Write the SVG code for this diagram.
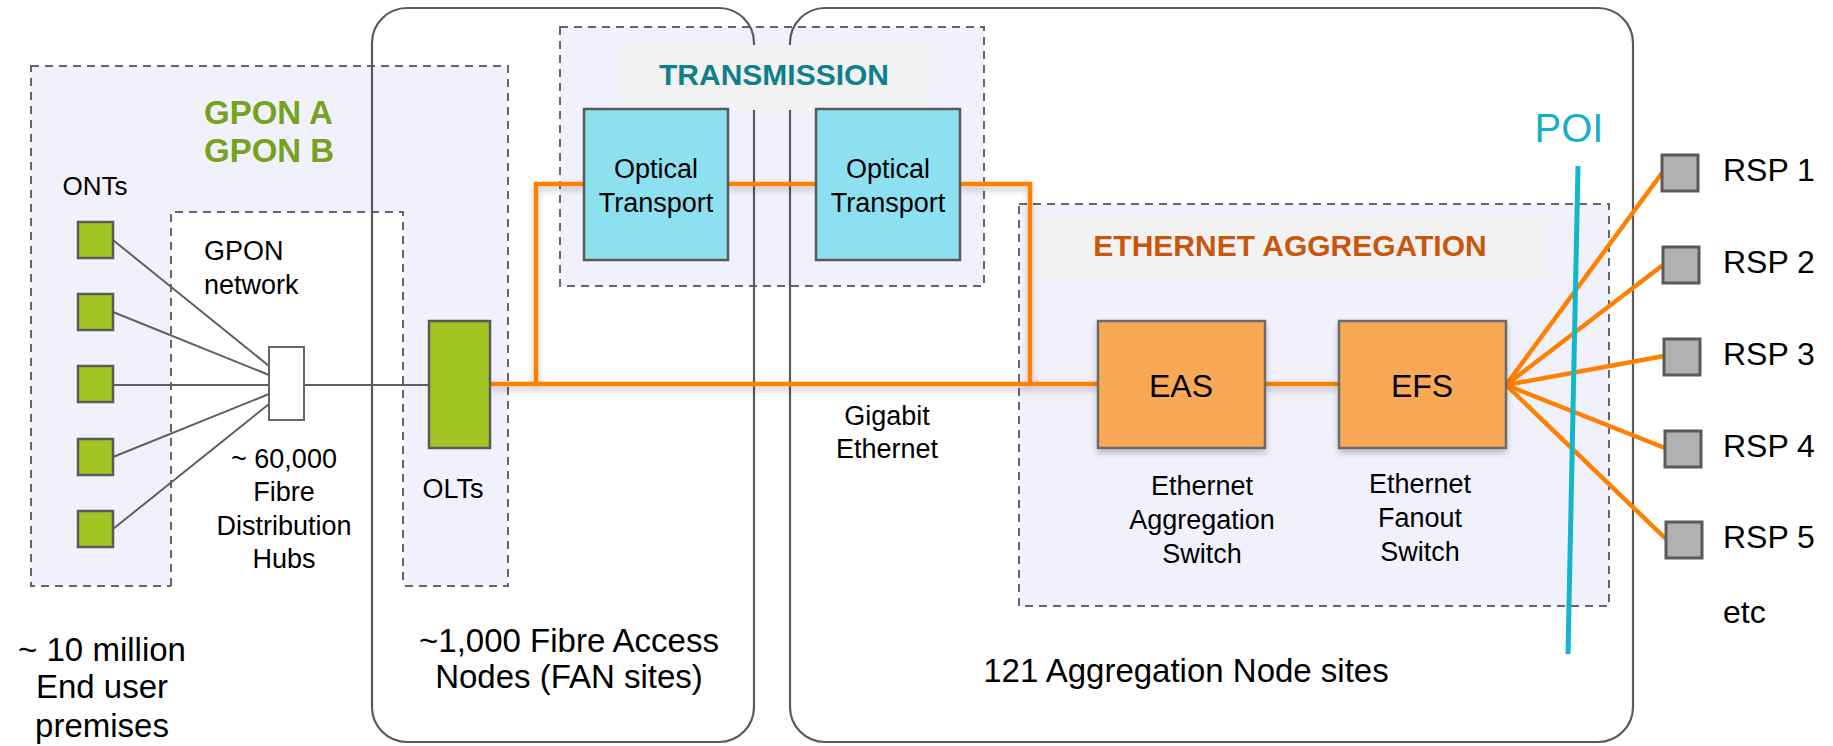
<svg xmlns="http://www.w3.org/2000/svg" width="1833" height="746" viewBox="0 0 1833 746">
<defs>
<style>
.region{fill:#F1F1FD;stroke:#666;stroke-width:2;stroke-dasharray:8 6}
.dash{fill:none;stroke:#666;stroke-width:2;stroke-dasharray:8 6}
.site{fill:none;stroke:#5a5a5a;stroke-width:2.2}
.lblbg{fill:#F2F2F2}
.t{font-family:"Liberation Sans",Arial,sans-serif;fill:#000}
.m{font-size:27px}
.l{font-size:33px}
.c{text-anchor:middle}
.h{font-weight:bold;font-size:30px}
.ont{fill:#A3C625;stroke:#5a5a5a;stroke-width:2.5}
.opt{fill:#8CE0F0;stroke:#5a5a5a;stroke-width:2.5}
.eth{fill:#F9A857;stroke:#6a6a6a;stroke-width:2.5}
.rsp{fill:#B1B1B1;stroke:#5a5a5a;stroke-width:3}
.gl{fill:none;stroke:#5f5f5f;stroke-width:2}
.ol{fill:none;stroke:#FF8000;stroke-width:4.5}
</style>
<filter id="sh" x="-10%" y="-50%" width="120%" height="300%">
<feDropShadow dx="0" dy="4" stdDeviation="3" flood-color="#000" flood-opacity="0.22"/>
</filter>
</defs>
<rect width="1833" height="746" fill="#fff"/>

<g id="regions">
<rect class="region" x="31" y="66" width="477" height="520"/>
<rect x="171" y="212" width="232" height="380" fill="#fff"/>
<path class="dash" d="M171,586 V212 H403 V586"/>
<rect class="region" x="560" y="27" width="424" height="259"/>
<rect class="region" x="1019" y="204" width="590" height="402"/>
</g>

<g id="sites">
<rect class="site" x="372" y="8" width="382" height="734" rx="35"/>
<rect class="site" x="790" y="8" width="843" height="734" rx="35"/>
</g>

<g id="labels">
<rect class="lblbg" x="621" y="45" width="307" height="65"/>
<text class="t h c" x="774" y="85" fill="#0F7F8C" style="fill:#0F7F8C">TRANSMISSION</text>
<rect class="lblbg" x="1033" y="215" width="514" height="65"/>
<text class="t h c" x="1290" y="256" style="fill:#C8560C">ETHERNET AGGREGATION</text>
<text class="t" x="204" y="124" style="fill:#76A21E;font-weight:bold;font-size:33px">GPON A</text>
<text class="t" x="204" y="162" style="fill:#76A21E;font-weight:bold;font-size:33px">GPON B</text>
</g>

<g id="connectors">
<line class="gl" x1="113" y1="240" x2="269" y2="366"/>
<line class="gl" x1="113" y1="312" x2="269" y2="375"/>
<line class="gl" x1="113" y1="385" x2="269" y2="385"/>
<line class="gl" x1="113" y1="457" x2="269" y2="394"/>
<line class="gl" x1="113" y1="529" x2="269" y2="404"/>
<line class="gl" x1="304" y1="385" x2="429" y2="385"/>
<g filter="url(#sh)">
<polyline class="ol" points="490,384 1098,384"/>
<polyline class="ol" points="536,384 536,184 584,184"/>
<polyline class="ol" points="728,184 816,184"/>
<polyline class="ol" points="960,184 1030,184 1030,384"/>
<polyline class="ol" points="1265,384 1339,384"/>
</g>
<line class="ol" x1="1506" y1="385" x2="1662" y2="173"/>
<line class="ol" x1="1506" y1="385" x2="1663" y2="265"/>
<line class="ol" x1="1506" y1="385" x2="1664" y2="356"/>
<line class="ol" x1="1506" y1="385" x2="1665" y2="448"/>
<line class="ol" x1="1506" y1="385" x2="1666" y2="539"/>
</g>

<g id="poi">
<line x1="1578" y1="166" x2="1568" y2="654" stroke="#14B6CC" stroke-width="5"/>
<text class="t c" x="1569" y="142" style="fill:#17B0C7;font-size:40px">POI</text>
</g>

<g id="onts">
<rect class="ont" x="78" y="222" width="35" height="36"/>
<rect class="ont" x="78" y="294" width="35" height="36"/>
<rect class="ont" x="78" y="366" width="35" height="36"/>
<rect class="ont" x="78" y="439" width="35" height="36"/>
<rect class="ont" x="78" y="511" width="35" height="36"/>
<text class="t c" x="95" y="195" style="font-size:26px">ONTs</text>
</g>

<g id="gpon-network">
<text class="t m" x="204" y="260">GPON</text>
<text class="t m" x="204" y="294">network</text>
</g>

<g id="hub">
<rect x="269" y="347" width="35" height="73" fill="#fff" stroke="#666" stroke-width="2"/>
<text class="t m c" x="284" y="468">~ 60,000</text>
<text class="t m c" x="284" y="501">Fibre</text>
<text class="t m c" x="284" y="535">Distribution</text>
<text class="t m c" x="284" y="568">Hubs</text>
</g>

<g id="olt">
<rect class="ont" x="429" y="321" width="61" height="127"/>
<text class="t m c" x="453" y="498">OLTs</text>
</g>

<g id="ot1">
<rect class="opt" x="584" y="109" width="144" height="151"/>
<text class="t m c" x="656" y="178">Optical</text>
<text class="t m c" x="656" y="212">Transport</text>
</g>

<g id="ot2">
<rect class="opt" x="816" y="109" width="144" height="151"/>
<text class="t m c" x="888" y="178">Optical</text>
<text class="t m c" x="888" y="212">Transport</text>
</g>

<g id="gige">
<text class="t m c" x="887" y="425">Gigabit</text>
<text class="t m c" x="887" y="458">Ethernet</text>
</g>

<g id="eas">
<rect class="eth" x="1098" y="321" width="167" height="127" filter="url(#sh)"/>
<text class="t c" x="1181" y="397" style="font-size:32px">EAS</text>
<text class="t m c" x="1202" y="495">Ethernet</text>
<text class="t m c" x="1202" y="529">Aggregation</text>
<text class="t m c" x="1202" y="563">Switch</text>
</g>

<g id="efs">
<rect class="eth" x="1339" y="321" width="167" height="127" filter="url(#sh)"/>
<text class="t c" x="1422" y="397" style="font-size:32px">EFS</text>
<text class="t m c" x="1420" y="493">Ethernet</text>
<text class="t m c" x="1420" y="527">Fanout</text>
<text class="t m c" x="1420" y="561">Switch</text>
</g>

<g id="rsps">
<rect class="rsp" x="1662" y="155" width="36" height="36"/>
<rect class="rsp" x="1663" y="247" width="36" height="36"/>
<rect class="rsp" x="1664" y="339" width="36" height="36"/>
<rect class="rsp" x="1665" y="431" width="36" height="36"/>
<rect class="rsp" x="1666" y="522" width="36" height="36"/>
<text class="t" x="1723" y="181" style="font-size:32px">RSP 1</text>
<text class="t" x="1723" y="273" style="font-size:32px">RSP 2</text>
<text class="t" x="1723" y="365" style="font-size:32px">RSP 3</text>
<text class="t" x="1723" y="457" style="font-size:32px">RSP 4</text>
<text class="t" x="1723" y="548" style="font-size:32px">RSP 5</text>
<text class="t" x="1723" y="623" style="font-size:32px">etc</text>
</g>

<g id="captions">
<text class="t l c" x="102" y="661">~ 10 million</text>
<text class="t l c" x="102" y="698">End user</text>
<text class="t l c" x="102" y="737">premises</text>
<text class="t l c" x="569" y="652">~1,000 Fibre Access</text>
<text class="t l c" x="569" y="688">Nodes (FAN sites)</text>
<text class="t l c" x="1186" y="682">121 Aggregation Node sites</text>
</g>
</svg>
